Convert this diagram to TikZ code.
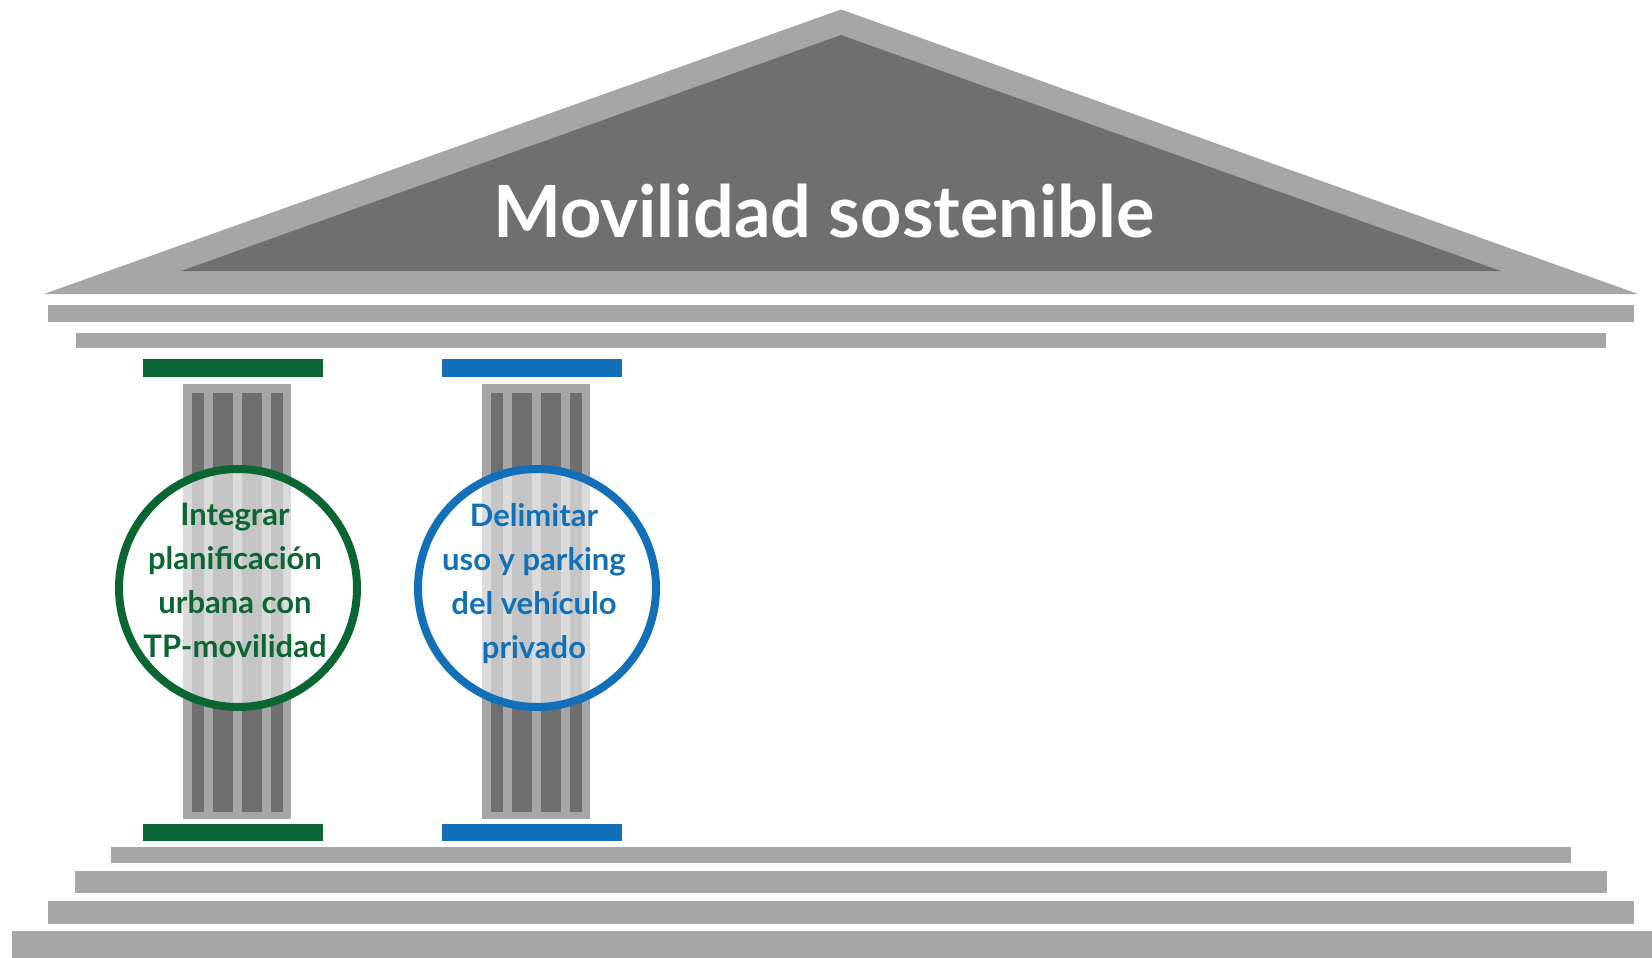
\documentclass[tikz,border=0pt]{standalone}
\usepackage{fontspec}
\setmainfont{Lato}
\definecolor{stone}{HTML}{A6A6A6}
\definecolor{roofdark}{HTML}{706F6F}
\definecolor{flute}{HTML}{6F6F6F}
\definecolor{pgreen}{HTML}{0C6634}
\definecolor{pblue}{HTML}{1170B8}
\begin{document}
\begin{tikzpicture}[x=1pt,y=-1pt,
  stonepart/.style={fill=stone,draw=none},
  titletext/.style={text=white,font=\bfseries\fontsize{72}{80}\selectfont,inner sep=0pt},
  ring/.style={circle,draw=#1,line width=8pt,fill=white,fill opacity=0.6,draw opacity=1,minimum size=238pt,inner sep=0pt},
  ringtext/.style={text=#1,font=\bfseries\fontsize{31}{44}\selectfont,align=center,inner sep=0pt}]
\useasboundingbox (0,0) rectangle (1652,958);
\fill[white] (0,0) rectangle (1652,958);
% roof
\fill[stonepart] (44,294) -- (841,9.5) -- (1638,294) -- cycle;
\fill[roofdark] (181,271) -- (841,35) -- (1501,271) -- cycle;
\node[titletext,anchor=base] (title) at (824,237) {Movilidad sostenible};
% entablature
\fill[stonepart] (48,305) rectangle (1634,322);
\fill[stonepart] (76,333) rectangle (1606,348);
% columns
\foreach \dx/\col/\i in {0/pgreen/1, 299/pblue/2}{
  \fill[\col] ({143+\dx},359) rectangle ({323+\dx},377);
  \fill[\col] ({143+\dx},824) rectangle ({323+\dx},841);
  \fill[stonepart] ({183+\dx},384) rectangle ({291+\dx},819);
  \foreach \a/\b in {192/204, 213/233, 242/262, 271/283}
    \fill[flute] ({\a+\dx},393) rectangle ({\b+\dx},812);
  \node[ring=\col] (c\i) at ({238+\dx},588) {};
}
\node[ringtext=pgreen,anchor=base] (t1) at (235,657) {Integrar\\planificación\\urbana con\\TP-movilidad};
\node[ringtext=pblue,anchor=base] (t2) at (534,658) {Delimitar\\uso y parking\\del vehículo\\privado};
% steps
\fill[stonepart] (111,847) rectangle (1571,863);
\fill[stonepart] (75,871) rectangle (1607,893);
\fill[stonepart] (48,901) rectangle (1634,924);
\fill[stonepart] (12,931) rectangle (1652,958);
\end{tikzpicture}
\end{document}
